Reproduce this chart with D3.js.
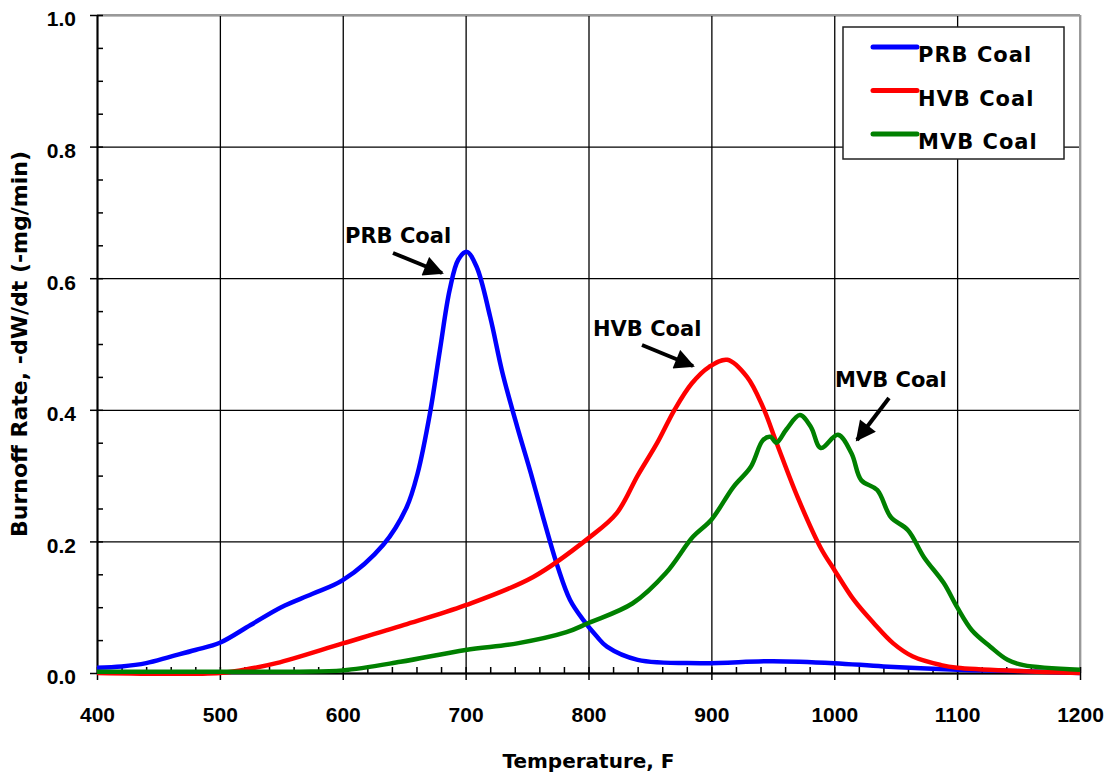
<!DOCTYPE html>
<html>
<head>
<meta charset="utf-8">
<script src="https://cdn.jsdelivr.net/npm/d3@7"></script>
<style>
  body { margin: 0; background: #fff; }
  .tick text { font-family: "Liberation Sans", Arial, sans-serif; font-weight: bold; font-size: 21px; fill: #000; }
  .lbl { font-family: "DejaVu Sans", sans-serif; font-weight: bold; fill: #000; }
</style>
</head>
<body>
<div id="chart"></div>
<script>
// temperature (F) / burnoff rate
var prbTemp = [400, 420, 440, 460, 480, 500, 525, 550, 575, 600, 633, 652, 661, 671, 679, 687, 694, 701, 709, 720, 730, 742, 753, 763, 775, 785, 796, 807, 815, 840, 891, 950, 1000, 1040, 1100, 1150, 1200];
var prbRate = [0.008, 0.010, 0.015, 0.025, 0.035, 0.046, 0.073, 0.100, 0.120, 0.141, 0.195, 0.252, 0.304, 0.395, 0.49, 0.582, 0.628, 0.64, 0.617, 0.541, 0.456, 0.374, 0.304, 0.237, 0.161, 0.111, 0.080, 0.055, 0.040, 0.020, 0.015, 0.018, 0.015, 0.010, 0.005, 0.003, 0.0];

var hvbTemp = [400, 500, 520, 546, 600, 650, 700, 755, 800, 823, 840, 856, 870, 884, 898, 913, 929, 942, 953, 970, 989, 1000, 1016, 1032, 1048, 1064, 1087, 1100, 1150, 1200];
var hvbRate = [0, 0, 0.005, 0.015, 0.045, 0.073, 0.103, 0.146, 0.205, 0.243, 0.300, 0.350, 0.40, 0.44, 0.465, 0.476, 0.45, 0.404, 0.35, 0.268, 0.19, 0.157, 0.111, 0.076, 0.045, 0.025, 0.012, 0.008, 0.003, 0.0];

var mvbTemp = [400, 500, 565, 600, 647, 700, 742, 782, 800, 836, 863, 885, 900, 918, 932, 942, 948, 953, 961, 972, 981, 989, 1003, 1014, 1022, 1035, 1046, 1060, 1073, 1089, 1100, 1112, 1127, 1141, 1154, 1200];
var mvbRate = [0.002, 0.002, 0.002, 0.004, 0.017, 0.035, 0.045, 0.062, 0.076, 0.106, 0.152, 0.207, 0.233, 0.283, 0.313, 0.354, 0.359, 0.35, 0.37, 0.392, 0.374, 0.342, 0.362, 0.334, 0.293, 0.278, 0.237, 0.217, 0.176, 0.137, 0.10, 0.065, 0.04, 0.02, 0.012, 0.005];

var seriesNames = ["PRB Coal", "HVB Coal", "MVB Coal"];
var seriesColors = ["#0000ff", "#ff0000", "#008000"];
var xTicks = [400, 500, 600, 700, 800, 900, 1000, 1100, 1200];
var yTicks = [0, 0.2, 0.4, 0.6, 0.8, 1.0];

var width = 1112, height = 777;
var margin = {left: 97, right: 32, top: 15, bottom: 104};
var w = width - margin.left - margin.right, h = height - margin.top - margin.bottom;

var svg = d3.select("#chart").append("svg")
    .attr("width", width).attr("height", height);
var g = svg.append("g").attr("transform", "translate(" + margin.left + "," + margin.top + ")");

var xScale = d3.scaleLinear().domain([400, 1200]).range([0, w]);
var yScale = d3.scaleLinear().domain([0, 1]).range([h, 0]);

// gridlines
g.append("g").attr("class", "grid")
    .call(d3.axisLeft(yScale).tickValues(yTicks).tickSize(-w).tickSizeOuter(0).tickFormat(""))
    .call(s => s.select(".domain").remove())
    .call(s => s.selectAll("line").attr("stroke", "#000").attr("stroke-width", 1.3));
g.append("g").attr("class", "grid")
    .attr("transform", "translate(0," + h + ")")
    .call(d3.axisBottom(xScale).tickValues(xTicks).tickSize(-h).tickSizeOuter(0).tickFormat(""))
    .call(s => s.select(".domain").remove())
    .call(s => s.selectAll("line").attr("stroke", "#000").attr("stroke-width", 1.3));

// gray frame top and right
g.append("line").attr("x1", 0).attr("x2", w).attr("y1", 0).attr("y2", 0)
    .attr("stroke", "#999").attr("stroke-width", 2);
g.append("line").attr("x1", w).attr("x2", w).attr("y1", 0).attr("y2", h)
    .attr("stroke", "#999").attr("stroke-width", 2);

// minor ticks (inside)
g.append("g")
    .call(d3.axisLeft(yScale).tickValues(d3.range(0, 1.001, 0.05)).tickSize(-6).tickSizeOuter(0).tickFormat(""))
    .call(s => s.select(".domain").remove())
    .call(s => s.selectAll("line").attr("stroke", "#000").attr("stroke-width", 1.5));
g.append("g").attr("transform", "translate(0," + h + ")")
    .call(d3.axisBottom(xScale).tickValues(d3.range(400, 1201, 20)).tickSize(-6).tickSizeOuter(0).tickFormat(""))
    .call(s => s.select(".domain").remove())
    .call(s => s.selectAll("line").attr("stroke", "#000").attr("stroke-width", 1.5));

// main axes with labels
var yAxis = g.append("g")
    .call(d3.axisLeft(yScale).tickValues(yTicks).tickSize(7).tickSizeOuter(0).tickPadding(14).tickFormat(d3.format(".1f")));
yAxis.selectAll("text").attr("dy", "0.52em");
var xAxis = g.append("g").attr("transform", "translate(0," + h + ")")
    .call(d3.axisBottom(xScale).tickValues(xTicks).tickSize(7).tickSizeOuter(0).tickPadding(27).tickFormat(d3.format("d")));
[yAxis, xAxis].forEach(a => {
    a.select(".domain").attr("stroke", "#000").attr("stroke-width", 2);
    a.selectAll("line").attr("stroke", "#000").attr("stroke-width", 1.5);
});

// curves
var line = d3.line()
    .x(d => xScale(d[0]))
    .y(d => yScale(d[1]))
    .curve(d3.curveCatmullRom.alpha(0.5));

var allSeries = [d3.zip(prbTemp, prbRate), d3.zip(hvbTemp, hvbRate), d3.zip(mvbTemp, mvbRate)];
allSeries.forEach(function(data, i) {
    g.append("path")
        .datum(data)
        .attr("fill", "none")
        .attr("stroke", seriesColors[i])
        .attr("stroke-width", 4.5)
        .attr("stroke-linejoin", "round")
        .attr("d", line);
});

// legend
var legend = svg.append("g");
legend.append("rect").attr("x", 843).attr("y", 27).attr("width", 221).attr("height", 132)
    .attr("fill", "#fff").attr("stroke", "#222").attr("stroke-width", 1.5);
seriesNames.forEach(function(name, i) {
    var ly = 47 + i * 43.5;
    legend.append("line").attr("x1", 873).attr("x2", 917).attr("y1", ly).attr("y2", ly)
        .attr("stroke", seriesColors[i]).attr("stroke-width", 5).attr("stroke-linecap", "round");
    legend.append("text").attr("class", "lbl").attr("x", 918).attr("y", ly + 15)
        .style("font-size", "21px").style("letter-spacing", "1px").text(name);
});

// annotations with arrows
svg.append("defs").append("marker")
    .attr("id", "head").attr("viewBox", "0 0 10 10").attr("refX", 9).attr("refY", 5)
    .attr("markerWidth", 5.5).attr("markerHeight", 5).attr("markerUnits", "strokeWidth")
    .attr("orient", "auto")
    .append("path").attr("d", "M0,0 L10,5 L0,10 z").attr("fill", "#000");

var notes = [
    {text: "PRB Coal", tx: 345, ty: 243, x1: 393, y1: 253, x2: 442, y2: 273},
    {text: "HVB Coal", tx: 593, ty: 336, x1: 642, y1: 345, x2: 693, y2: 366},
    {text: "MVB Coal", tx: 835, ty: 387, x1: 889, y1: 398, x2: 857, y2: 440}
];
notes.forEach(function(n) {
    svg.append("text").attr("class", "lbl").attr("x", n.tx).attr("y", n.ty)
        .style("font-size", "21px").text(n.text);
    svg.append("line").attr("x1", n.x1).attr("y1", n.y1).attr("x2", n.x2).attr("y2", n.y2)
        .attr("stroke", "#000").attr("stroke-width", 4).attr("marker-end", "url(#head)");
});

// axis titles
svg.append("text").attr("class", "lbl")
    .attr("x", margin.left + w / 2).attr("y", 768)
    .attr("text-anchor", "middle").style("font-size", "20px")
    .text("Temperature, F");
svg.append("text").attr("class", "lbl")
    .attr("transform", "translate(27," + (margin.top + h / 2) + ") rotate(-90)")
    .attr("text-anchor", "middle").style("font-size", "22px")
    .text("Burnoff Rate, -dW/dt (-mg/min)");
</script>
</body>
</html>
